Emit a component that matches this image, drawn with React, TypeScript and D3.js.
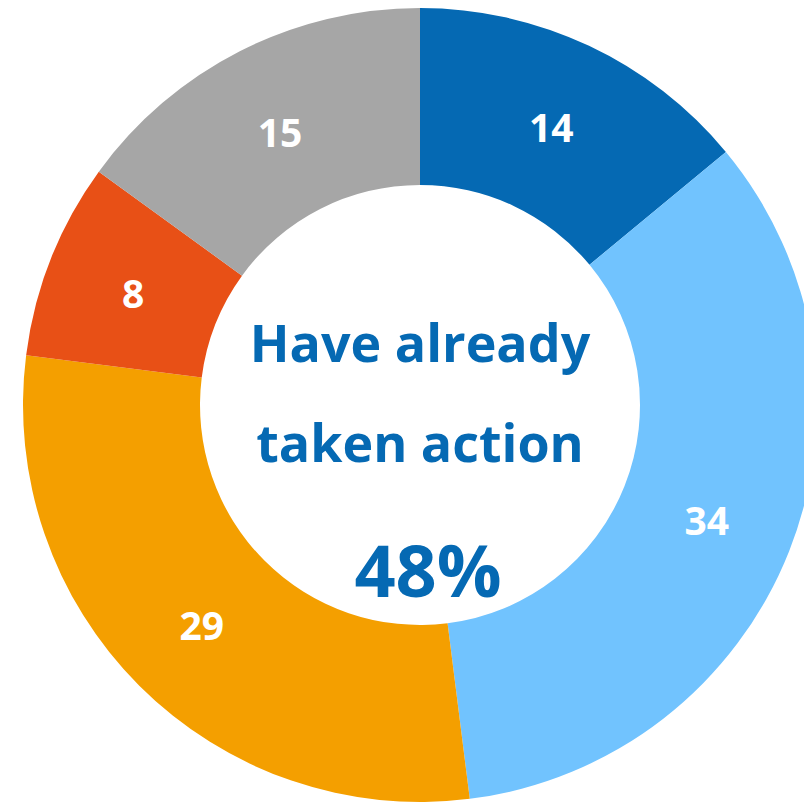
import React, { useEffect, useRef } from 'react';
import * as d3 from 'd3';

const categories = ['A', 'B', 'C', 'D', 'E'];
const values = [14, 34, 29, 8, 15];
const colors = ['#0569b3', '#71c3fe', '#f49f00', '#e85016', '#a6a6a6'];
const centerLines = ['Have already', 'taken action'];
const centerValue = '48%';

function App() {
    const ref = useRef<SVGSVGElement>(null);

    useEffect(() => {
        const svg = d3.select(ref.current);
        svg.selectAll('*').remove();

        const cx = 420, cy = 405;
        const outer = 397, inner = 220;

        const g = svg.append('g').attr('transform', `translate(${cx},${cy})`);

        const pie = d3.pie<number>().sort(null).value(d => d);
        const arc = d3.arc<d3.PieArcDatum<number>>().innerRadius(inner).outerRadius(outer);
        const arcs = pie(values);

        g.selectAll('path.slice')
            .data(arcs)
            .enter()
            .append('path')
            .attr('class', 'slice')
            .attr('d', arc)
            .attr('fill', (d, i) => colors[i]);

        // value labels
        g.selectAll('text.lbl')
            .data(arcs)
            .enter()
            .append('text')
            .attr('class', 'lbl')
            .attr('transform', d => `translate(${arc.centroid(d)})`)
            .attr('text-anchor', 'middle')
            .attr('dy', '0.42em')
            .attr('fill', '#fff')
            .attr('font-family', '"Open Sans", sans-serif')
            .attr('font-weight', 700)
            .attr('font-size', 39)
            .text(d => d.data);

        // centre text
        const ct = g.append('g')
            .attr('fill', '#0569b3')
            .attr('font-family', '"Open Sans", sans-serif')
            .attr('font-weight', 700)
            .attr('text-anchor', 'middle');

        ct.selectAll('text.line')
            .data(centerLines)
            .enter()
            .append('text')
            .attr('class', 'line')
            .attr('y', (d, i) => -43 + i * 100)
            .attr('font-size', 52)
            .text(d => d);

        ct.append('text')
            .attr('x', 8)
            .attr('y', 192)
            .attr('font-size', 72)
            .text(centerValue);
    }, []);

    return (
        <svg ref={ref} width={804} height={804}
             style={{ position: 'absolute', left: 0, top: 0, background: '#fff' }} />
    );
}

export default App;
